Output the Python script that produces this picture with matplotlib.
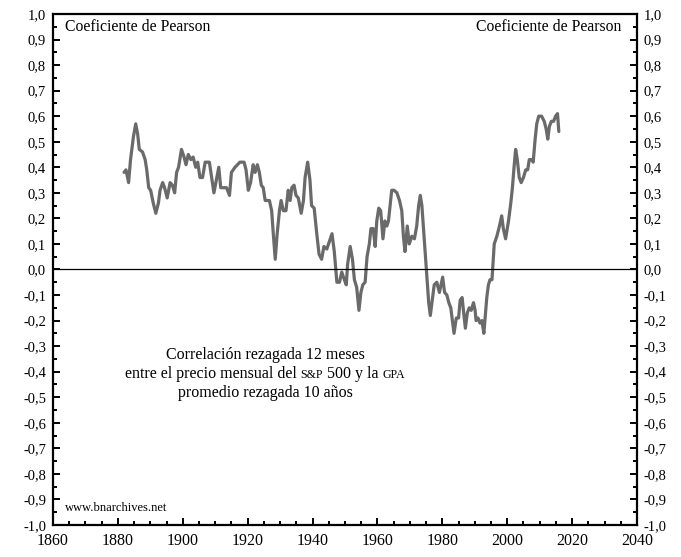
import numpy as np
import matplotlib
matplotlib.use("Agg")
import matplotlib.pyplot as plt
from matplotlib.ticker import MultipleLocator, FuncFormatter
from matplotlib.offsetbox import TextArea, HPacker, VPacker, AnchoredOffsetbox

plt.rcParams['font.family'] = ['Liberation Serif', 'DejaVu Serif']

# lagged 12-month Pearson correlation
years = [1881.9, 1882.5, 1883.3, 1883.9, 1884.8, 1885.5, 1886.1, 1886.6, 1887.6, 1888.4,
         1888.9, 1889.5, 1890.1, 1890.9, 1891.7, 1892.5, 1893.0, 1893.8, 1894.4, 1895.2,
         1896.1, 1896.8, 1897.5, 1898.1, 1898.7, 1899.6, 1900.4, 1901.0, 1901.7, 1902.5,
         1903.2, 1904.0, 1904.6, 1905.3, 1906.1, 1906.9, 1907.5, 1908.2, 1908.9, 1909.6,
         1910.5, 1911.1, 1911.7, 1912.5, 1913.5, 1914.4, 1915.0, 1916.1, 1917.6, 1918.9,
         1919.5, 1920.2, 1920.9, 1921.7, 1922.3, 1923.0, 1923.6, 1924.2, 1924.8, 1925.4,
         1926.7, 1927.4, 1927.9, 1928.5, 1929.1, 1929.8, 1930.3, 1931.0, 1931.8, 1932.5,
         1933.1, 1933.6, 1934.3, 1934.9, 1935.6, 1936.5, 1937.2, 1937.7, 1938.5, 1939.2,
         1939.7, 1940.5, 1941.3, 1942.0, 1942.8, 1943.5, 1944.4, 1945.2, 1946.0, 1946.7,
         1947.5, 1948.3, 1949.0, 1949.8, 1950.4, 1950.8, 1951.6, 1952.3, 1952.9, 1953.6,
         1954.3, 1954.9, 1955.5, 1956.2, 1956.8, 1957.5, 1958.0, 1958.7, 1959.3, 1959.8,
         1960.4, 1961.0, 1961.7, 1962.3, 1962.9, 1963.4, 1963.9, 1964.4, 1965.1, 1966.0,
         1966.8, 1967.5, 1968.0, 1968.5, 1969.2, 1969.8, 1970.6, 1971.4, 1972.1, 1972.7,
         1973.2, 1973.7, 1974.2, 1974.8, 1975.4, 1975.8, 1976.3, 1976.9, 1977.5, 1978.3,
         1979.1, 1979.6, 1980.1, 1980.7, 1981.4, 1982.0, 1982.6, 1983.1, 1983.6, 1984.3,
         1985.0, 1985.5, 1986.1, 1986.5, 1987.1, 1987.7, 1988.3, 1988.9, 1989.6, 1990.1,
         1990.4, 1991.0, 1991.6, 1992.2, 1992.8, 1993.2, 1993.7, 1994.2, 1994.7, 1995.3,
         1996.0, 1996.8, 1997.6, 1998.3, 1998.8, 1999.5, 2000.4, 2001.1, 2001.6, 2002.1,
         2002.6, 2003.1, 2003.7, 2004.3, 2005.0, 2005.7, 2006.3, 2006.8, 2007.5, 2008.0,
         2008.6, 2009.1, 2009.7, 2010.6, 2011.4, 2012.0, 2012.5, 2013.0, 2013.6, 2014.3,
         2014.9, 2015.5, 2015.9]
pearson = [0.38, 0.39, 0.34, 0.43, 0.52, 0.57, 0.53, 0.47, 0.46, 0.43,
           0.39, 0.32, 0.31, 0.26, 0.22, 0.26, 0.31, 0.34, 0.32, 0.28,
           0.34, 0.33, 0.30, 0.38, 0.40, 0.47, 0.44, 0.41, 0.45, 0.43,
           0.44, 0.40, 0.42, 0.36, 0.36, 0.42, 0.42, 0.42, 0.36, 0.30,
           0.36, 0.40, 0.32, 0.32, 0.32, 0.29, 0.38, 0.40, 0.42, 0.42,
           0.39, 0.31, 0.34, 0.41, 0.38, 0.41, 0.38, 0.33, 0.32, 0.27,
           0.27, 0.23, 0.14, 0.04, 0.14, 0.23, 0.27, 0.23, 0.23, 0.31,
           0.27, 0.32, 0.33, 0.29, 0.28, 0.22, 0.27, 0.36, 0.42, 0.35,
           0.25, 0.24, 0.14, 0.06, 0.04, 0.09, 0.08, 0.11, 0.14, 0.07,
           -0.05, -0.05, -0.01, -0.04, -0.06, 0.02, 0.09, 0.04, -0.04, -0.07,
           -0.16, -0.09, -0.06, -0.05, 0.05, 0.10, 0.16, 0.16, 0.09, 0.19,
           0.24, 0.23, 0.12, 0.19, 0.17, 0.19, 0.25, 0.31, 0.31, 0.30,
           0.27, 0.23, 0.13, 0.07, 0.17, 0.10, 0.13, 0.12, 0.17, 0.25,
           0.29, 0.25, 0.16, 0.05, -0.05, -0.13, -0.18, -0.12, -0.06, -0.05,
           -0.09, -0.06, -0.03, -0.09, -0.10, -0.13, -0.15, -0.20, -0.25, -0.19,
           -0.19, -0.12, -0.11, -0.16, -0.23, -0.17, -0.15, -0.16, -0.13, -0.16,
           -0.20, -0.19, -0.21, -0.20, -0.25, -0.19, -0.11, -0.06, -0.04, -0.04,
           0.10, 0.13, 0.17, 0.21, 0.16, 0.12, 0.19, 0.26, 0.32, 0.40,
           0.47, 0.43, 0.36, 0.34, 0.36, 0.39, 0.39, 0.43, 0.43, 0.42,
           0.51, 0.57, 0.60, 0.60, 0.58, 0.55, 0.51, 0.56, 0.58, 0.58,
           0.60, 0.61, 0.54]

fig = plt.figure(figsize=(6.81, 5.57), dpi=100)
ax = fig.add_axes([0.0778, 0.0575, 0.8576, 0.9174])

ax.plot(years, pearson, color='#6a6a6a', lw=2.3, solid_joinstyle='round', solid_capstyle='round')
ax.axhline(0, color='black', lw=0.9)

ax.set_xlim(1860, 2040)
ax.set_ylim(-1.0, 1.0)
ax.xaxis.set_major_locator(MultipleLocator(20))
ax.xaxis.set_minor_locator(MultipleLocator(5))
ax.yaxis.set_major_locator(MultipleLocator(0.1))
ax.yaxis.set_minor_locator(MultipleLocator(0.05))
ax.yaxis.set_major_formatter(FuncFormatter(lambda v, p: f"{v:.1f}".replace('.', ',').replace('-0,0', '0,0')))

for s in ax.spines.values():
    s.set_linewidth(1.6)
ax.tick_params(which='both', direction='in', width=1.4, right=True, labelright=True, top=False)
ax.tick_params(which='major', length=5)
ax.tick_params(which='minor', length=3)
ax.tick_params(axis='x', labelsize=11.5, pad=6)
ax.tick_params(axis='y', labelsize=10.5, pad=5)

ax.text(0.0205, 0.975, 'Coeficiente de Pearson', transform=ax.transAxes, fontsize=11.3, va='center', ha='left')
ax.text(0.974, 0.975, 'Coeficiente de Pearson', transform=ax.transAxes, fontsize=11.3, va='center', ha='right')
ax.text(0.0205, 0.033, 'www.bnarchives.net', transform=ax.transAxes, fontsize=9, va='center', ha='left')

# centre note; "S&P" and "GPA" set in small caps
big = dict(fontsize=11.5)
small = dict(fontsize=8.6)
line1 = TextArea('Correlación rezagada 12 meses', textprops=big)
line2 = HPacker(children=[TextArea('entre el precio mensual del ', textprops=big),
                          TextArea('S&P', textprops=small),
                          TextArea(' 500 y la ', textprops=big),
                          TextArea('GPA', textprops=small)],
                align='baseline', pad=0, sep=0)
line3 = TextArea('promedio rezagada 10 años', textprops=big)
note = VPacker(children=[line1, line2, line3], align='center', pad=0, sep=2)
box = AnchoredOffsetbox(loc='center', child=note, bbox_to_anchor=(0.363, 0.2955),
                        bbox_transform=ax.transAxes, frameon=False, pad=0, borderpad=0)
ax.add_artist(box)

fig.savefig('out.png', dpi=100)
